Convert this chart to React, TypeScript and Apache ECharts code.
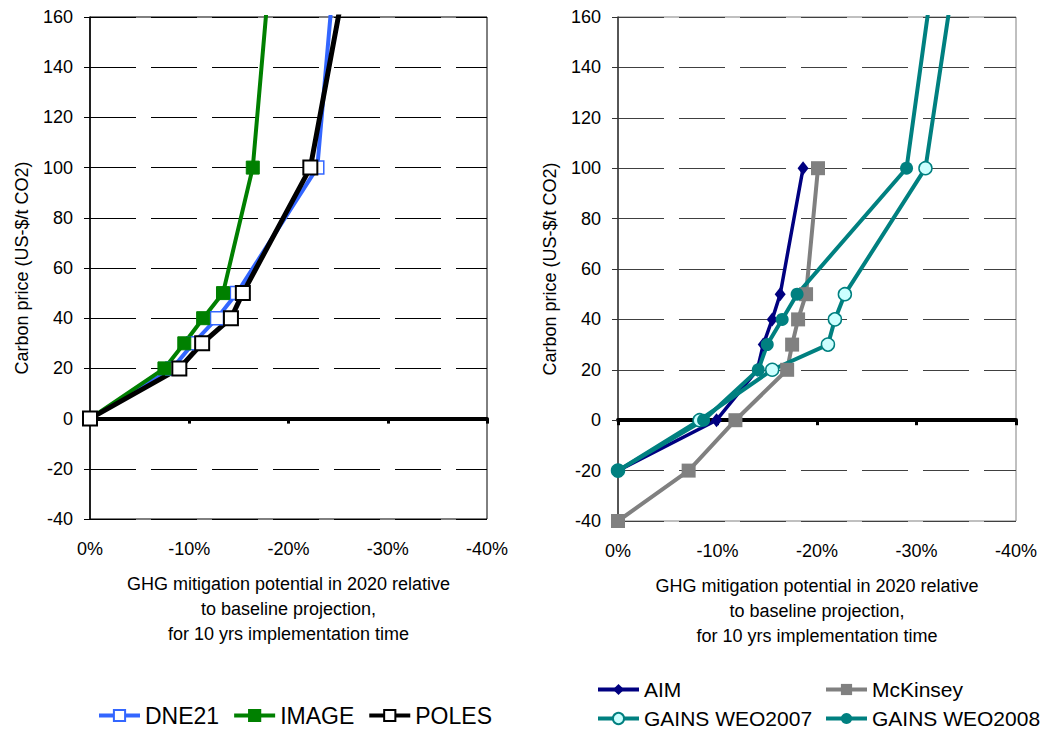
import * as echarts from 'echarts';
import { useEffect, useRef } from 'react';

// carbon price levels (US-$/t CO2) for each model point
const pricesLeft = [0, 20, 30, 40, 50, 100, 200];
const dne21 = [0, -8.3, -10.4, -12.8, -14.8, -22.9, -25.1];
const image = [0, -7.5, -9.5, -11.4, -13.4, -16.4, -18.6];
const poles = [0, -9.0, -11.3, -14.2, -15.4, -22.2, -26.9];

const pricesAim = [-20, 0, 20, 30, 40, 50, 100];
const aim = [0, -9.9, -14.0, -14.6, -15.5, -16.3, -18.6];
const pricesMck = [-40, -20, 0, 20, 30, 40, 50, 100];
const mckinsey = [0, -7.1, -11.8, -17.0, -17.5, -18.1, -18.9, -20.1];
const pricesGains = [-20, 0, 20, 30, 40, 50, 100, 200];
const weo2007 = [0, -8.2, -15.5, -21.1, -21.8, -22.8, -30.9, -34.7];
const weo2008 = [0, -8.6, -14.1, -15.0, -16.5, -18.0, -29.0, -32.5];

const FONT = 'Liberation Sans, Arial, sans-serif';
const xName = 'GHG mitigation potential in 2020 relative\nto baseline projection,\nfor 10 yrs implementation time';

const pairs = (xs: number[], ys: number[]) => xs.map((x, i) => [x, ys[i]]);

function xAxes(grid: number) {
    return [
        {
            gridIndex: grid,
            type: 'value',
            min: -40,
            max: 0,
            interval: 10,
            inverse: true,
            position: 'bottom',
            axisLine: { show: false, onZero: false },
            axisTick: { show: false },
            splitLine: { show: false },
            axisLabel: { formatter: (v: number) => v + '%', margin: 21, fontSize: 18, color: '#000', fontFamily: FONT },
            name: xName,
            nameLocation: 'middle',
            nameGap: 52,
            nameTextStyle: { fontSize: 18, lineHeight: 25, color: '#000', fontFamily: FONT },
        },
        {
            gridIndex: grid,
            type: 'value',
            min: -40,
            max: 0,
            interval: 10,
            inverse: true,
            position: 'bottom',
            axisLine: { show: true, onZero: true, lineStyle: { color: '#000', width: 4 } },
            axisTick: { show: true, length: 5, lineStyle: { color: '#000', width: 3 } },
            axisLabel: { show: false },
            splitLine: { show: false },
        },
    ];
}

function yAxis(grid: number, axisColor: string, gridColor: string) {
    return {
        gridIndex: grid,
        type: 'value',
        min: -40,
        max: 160,
        interval: 20,
        axisLine: { show: true, lineStyle: { color: axisColor, width: 1.5 } },
        axisTick: { show: true, length: 6, lineStyle: { color: axisColor } },
        axisLabel: { margin: 17, fontSize: 18, color: '#000', fontFamily: FONT },
        splitLine: { show: true, lineStyle: { color: gridColor, width: 1, type: [46, 15] } },
        name: 'Carbon price (US-$/t CO2)',
        nameLocation: 'middle',
        nameGap: 59,
        nameTextStyle: { fontSize: 18, color: '#000', fontFamily: FONT },
    };
}

function legend(names: string[], left: number, top: number, fontSize: number) {
    return {
        data: names,
        left,
        top,
        itemWidth: 41,
        itemHeight: 14,
        itemGap: 13,
        lineStyle: { width: 4 },
        textStyle: { fontSize, color: '#000', fontFamily: FONT },
    };
}

export default function App() {
    const chartRef = useRef<HTMLDivElement>(null);

    useEffect(() => {
        const chart = echarts.init(chartRef.current, null, { renderer: 'svg' });
        const option = {
            animation: false,
            textStyle: { fontFamily: FONT },
            grid: [
                { left: 90, top: 17, width: 397, height: 502, show: true, borderColor: '#000', borderWidth: 1 },
                { left: 618, top: 17, width: 398, height: 504, show: true, borderColor: '#808080', borderWidth: 1 },
            ],
            xAxis: [...xAxes(0), ...xAxes(1)],
            yAxis: [yAxis(0, '#000', '#000'), yAxis(1, '#333', '#404040')],
            legend: [
                legend(['DNE21', 'IMAGE', 'POLES'], 92, 699, 23),
                legend(['AIM'], 591, 674, 21),
                legend(['McKinsey'], 819, 674, 21),
                legend(['GAINS WEO2007'], 591, 703, 21),
                legend(['GAINS WEO2008'], 819, 703, 21),
            ],
            series: [
                {
                    name: 'DNE21', type: 'line', xAxisIndex: 0, yAxisIndex: 0,
                    data: pairs(dne21, pricesLeft),
                    lineStyle: { color: '#3366FF', width: 4 },
                    itemStyle: { color: '#fff', borderColor: '#3366FF', borderWidth: 1.5 },
                    symbol: 'rect', symbolSize: 13,
                },
                {
                    name: 'IMAGE', type: 'line', xAxisIndex: 0, yAxisIndex: 0,
                    data: pairs(image, pricesLeft),
                    lineStyle: { color: '#008000', width: 4 },
                    itemStyle: { color: '#008000', borderColor: '#008000', borderWidth: 1 },
                    symbol: 'rect', symbolSize: 13,
                },
                {
                    name: 'POLES', type: 'line', xAxisIndex: 0, yAxisIndex: 0,
                    data: pairs(poles, pricesLeft),
                    lineStyle: { color: '#000', width: 5 },
                    itemStyle: { color: '#fff', borderColor: '#000', borderWidth: 2 },
                    symbol: 'rect', symbolSize: 14,
                },
                {
                    name: 'AIM', type: 'line', xAxisIndex: 2, yAxisIndex: 1,
                    data: pairs(aim, pricesAim),
                    lineStyle: { color: '#000080', width: 3.5 },
                    itemStyle: { color: '#000080' },
                    symbol: 'diamond', symbolSize: [11, 14],
                },
                {
                    name: 'McKinsey', type: 'line', xAxisIndex: 2, yAxisIndex: 1,
                    data: pairs(mckinsey, pricesMck),
                    lineStyle: { color: '#808080', width: 4 },
                    itemStyle: { color: '#808080' },
                    symbol: 'rect', symbolSize: 14,
                },
                {
                    name: 'GAINS WEO2007', type: 'line', xAxisIndex: 2, yAxisIndex: 1,
                    data: pairs(weo2007, pricesGains),
                    lineStyle: { color: '#008080', width: 4 },
                    itemStyle: { color: '#CCFFFF', borderColor: '#008080', borderWidth: 1.5 },
                    symbol: 'circle', symbolSize: 13,
                },
                {
                    name: 'GAINS WEO2008', type: 'line', xAxisIndex: 2, yAxisIndex: 1,
                    data: pairs(weo2008, pricesGains),
                    lineStyle: { color: '#008080', width: 4 },
                    itemStyle: { color: '#008080' },
                    symbol: 'circle', symbolSize: 13,
                },
            ],
        };
        chart.setOption(option);

        return () => {
            chart.dispose();
        };
    }, []);

    return <div
        ref={chartRef}
        style={{
            position: 'fixed',
            left: 0,
            top: 0,
            width: '1043px',
            height: '730px',
            background: '#fff',
        }}
    />
}
